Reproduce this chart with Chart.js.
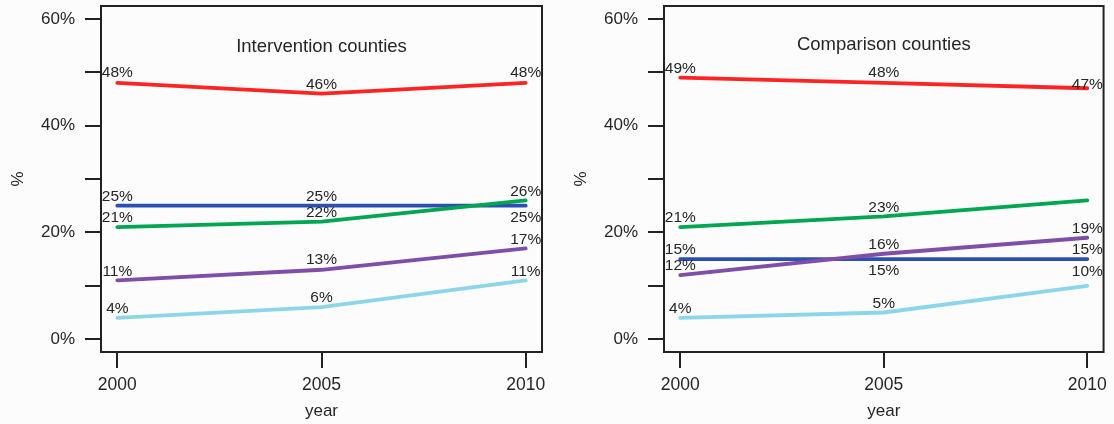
<!DOCTYPE html>
<html>
<head>
<meta charset="utf-8">
<script src="https://cdn.jsdelivr.net/npm/chart.js@4/dist/chart.umd.min.js"></script>
<style>
    html, body { margin: 0; padding: 0; background: #fcfcfd; }
    .panel { position: absolute; top: 0; width: 557px; height: 424px; }
    #leftPanel { left: 0; }
    #rightPanel { left: 557px; }
</style>
</head>
<body>
<div class="panel" id="leftPanel"><canvas id="interventionGraph"></canvas></div>
<div class="panel" id="rightPanel"><canvas id="comparisonGraph"></canvas></div>
<script>
// data
const years = [2000, 2005, 2010];
const yTicks = [0, 10, 20, 30, 40, 50, 60];
const yTickLabels = ['0%', '', '20%', '', '40%', '', '60%'];

const seriesNames = ['cyan', 'purple', 'green', 'blue', 'red'];
const seriesColors = ['#8dd6ea', '#7f4ea8', '#00a651', '#2c4fb1', '#ff2424'];

// Intervention counties
const intCyan = [4, 6, 11];
const intPurple = [11, 13, 17];
const intGreen = [21, 22, 26];
const intBlue = [25, 25, 25];
const intRed = [48, 46, 48];

// Comparison counties
const cmpCyan = [4, 5, 10];
const cmpPurple = [12, 16, 19];
const cmpGreen = [21, 23, 26];
const cmpBlue = [15, 15, 15];
const cmpRed = [49, 48, 47];

// where each value label sits relative to its point (px, null = no label)
const intLabelDy = [[-9, -9, -9], [-9, -10, -9], [-9, -9, -9], [-9, -9, 12], [-10, -9, -10]];
const cmpLabelDy = [[-9, -9, -14], [-9, -9, -9], [-9, -9, null], [-9, 12, -9], [-9, -10, -4]];

const textColor = '#262626';
const frameColor = '#222222';
const fontFamily = '"Liberation Sans", Arial, sans-serif';

// box around the plot area, panel title and value labels
const panelDecor = {
    id: 'panelDecor',
    afterDatasetsDraw(chart, args, opts) {
        const ctx = chart.ctx;
        const area = chart.chartArea;
        ctx.save();

        chart.data.datasets.forEach((ds, i) => {
            const meta = chart.getDatasetMeta(i);
            ctx.font = '15.5px ' + fontFamily;
            ctx.fillStyle = textColor;
            ctx.textAlign = 'center';
            ctx.textBaseline = 'middle';
            meta.data.forEach((pt, j) => {
                const dy = opts.labelDy[i][j];
                if (dy === null) return;
                ctx.fillText(ds.data[j].y + '%', pt.x, pt.y + dy);
            });
        });

        ctx.strokeStyle = frameColor;
        ctx.lineWidth = 2;
        ctx.strokeRect(area.left, area.top, area.right - area.left, area.bottom - area.top);

        ctx.font = '18.5px ' + fontFamily;
        ctx.fillStyle = textColor;
        ctx.textAlign = 'center';
        ctx.textBaseline = 'middle';
        ctx.fillText(opts.title, (area.left + area.right) / 2, opts.titleY);
        ctx.restore();
    }
};

function createPanel(canvasId, title, seriesValues, labelDy, cfg) {
    const ctx = document.getElementById(canvasId).getContext('2d');

    const datasets = seriesValues.map((values, i) => ({
        label: seriesNames[i],
        data: values.map((v, j) => ({ x: years[j], y: v })),
        borderColor: seriesColors[i],
        borderWidth: 3.8,
        borderCapStyle: 'round',
        pointRadius: 0,
        tension: 0,
        fill: false
    }));

    const tickGrid = {
        drawOnChartArea: false,
        drawTicks: true,
        tickLength: 16,
        color: frameColor,
        lineWidth: 2
    };

    return new Chart(ctx, {
        type: 'line',
        data: { datasets: datasets },
        options: {
            responsive: true,
            maintainAspectRatio: false,
            animation: false,
            events: [],
            layout: {
                padding: { left: 0, right: cfg.padRight, top: 6, bottom: 0 }
            },
            plugins: {
                legend: { display: false },
                tooltip: { enabled: false },
                panelDecor: { title: title, titleY: cfg.titleY, labelDy: labelDy }
            },
            scales: {
                x: {
                    type: 'linear',
                    min: 1999.6,
                    max: 2010.4,
                    afterBuildTicks: scale => { scale.ticks = years.map(v => ({ value: v })); },
                    afterFit: scale => { scale.height = 72; },
                    grid: tickGrid,
                    border: { display: false },
                    ticks: {
                        color: textColor,
                        padding: 7,
                        maxRotation: 0,
                        font: { family: fontFamily, size: 17.5 },
                        callback: v => String(v)
                    },
                    title: {
                        display: true,
                        text: 'year',
                        color: textColor,
                        padding: { top: 0, bottom: 2 },
                        font: { family: fontFamily, size: 17 }
                    }
                },
                y: {
                    min: -2.4,
                    max: 62.4,
                    afterBuildTicks: scale => { scale.ticks = yTicks.map(v => ({ value: v })); },
                    afterFit: scale => {
                        scale.width = cfg.yWidth;
                        scale.paddingTop = 0;
                        scale.paddingBottom = 0;
                    },
                    grid: tickGrid,
                    border: { display: false },
                    ticks: {
                        color: textColor,
                        padding: 10,
                        font: { family: fontFamily, size: 17 },
                        callback: v => yTickLabels[yTicks.indexOf(v)]
                    },
                    title: {
                        display: true,
                        text: '%',
                        color: textColor,
                        padding: { top: cfg.yTitlePad, bottom: 0 },
                        font: { family: fontFamily, size: 17 }
                    }
                }
            }
        },
        plugins: [panelDecor]
    });
}

createPanel('interventionGraph', 'Intervention counties',
    [intCyan, intPurple, intGreen, intBlue, intRed], intLabelDy,
    { padRight: 15, yWidth: 101, yTitlePad: 8, titleY: 47 });

createPanel('comparisonGraph', 'Comparison counties',
    [cmpCyan, cmpPurple, cmpGreen, cmpBlue, cmpRed], cmpLabelDy,
    { padRight: 7, yWidth: 107, yTitlePad: 14, titleY: 45 });
</script>
</body>
</html>
